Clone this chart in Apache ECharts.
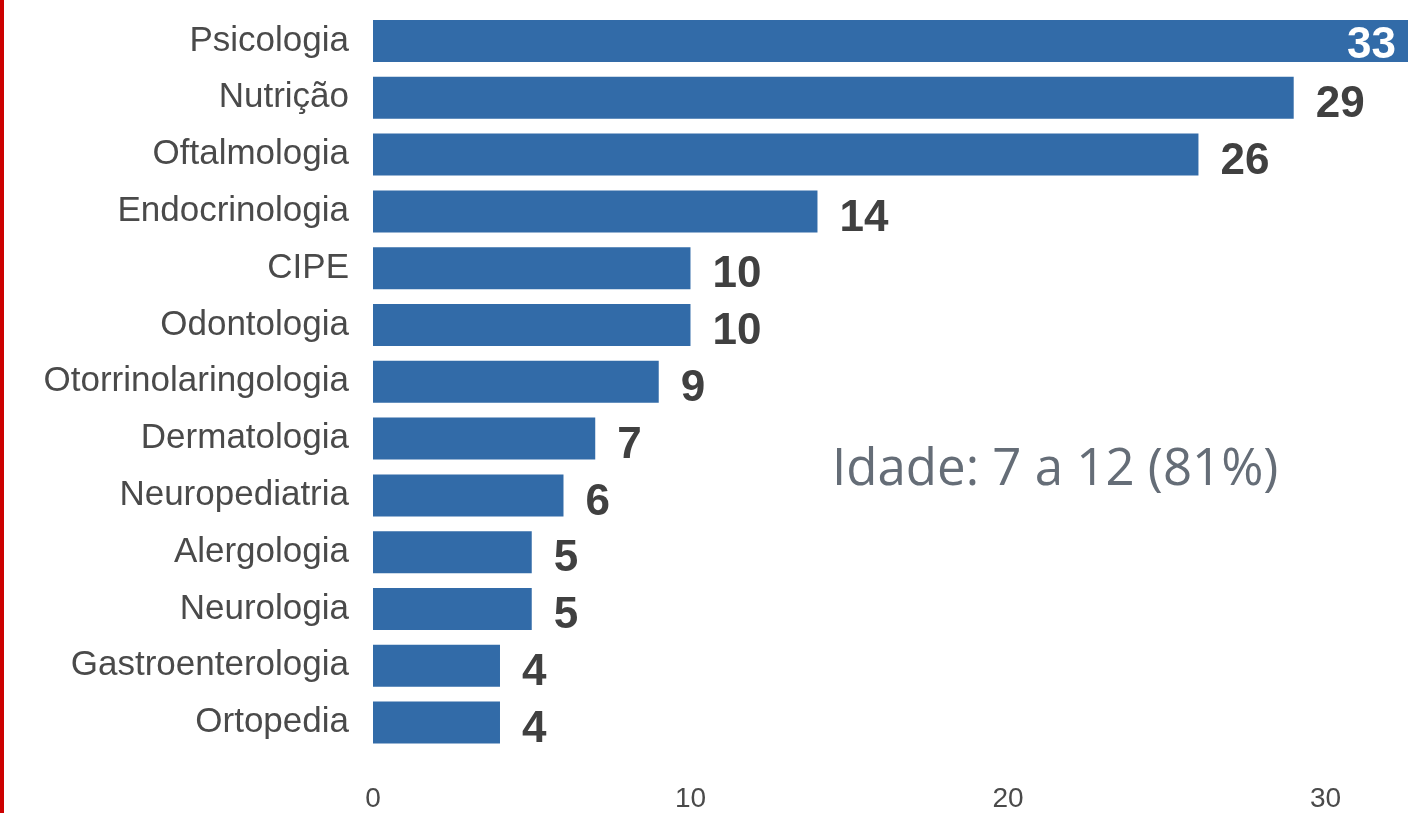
<!DOCTYPE html>
<html>
<head>
<meta charset="utf-8">
<script src="https://cdn.jsdelivr.net/npm/echarts@6/dist/echarts.min.js"></script>
<style>
html,body{margin:0;padding:0;background:#fff;}
#chart{width:1408px;height:813px;}
</style>
</head>
<body>
<div id="chart"></div>
<script>
var categories = ['Psicologia','Nutrição','Oftalmologia','Endocrinologia','CIPE','Odontologia','Otorrinolaringologia','Dermatologia','Neuropediatria','Alergologia','Neurologia','Gastroenterologia','Ortopedia'];
var values = [33,29,26,14,10,10,9,7,6,5,5,4,4];
var xTicks = [0,10,20,30];
var annotation = 'Idade: 7 a 12 (81%)';

var chart = echarts.init(document.getElementById('chart'));
var data = values.map(function(v, i){
  if (i === 0) {
    return {value: v, label: {position: 'insideRight', distance: 12, color: '#ffffff', offset: [0, 5]}};
  }
  return v;
});
chart.setOption({
  backgroundColor: '#ffffff',
  animation: false,
  grid: {left: 373, top: 12.6, right: 0, height: 739, containLabel: false},
  xAxis: {
    type: 'value', min: 0, max: 32.6, interval: 10,
    axisLine: {show: false}, axisTick: {show: false}, splitLine: {show: false},
    axisLabel: {
      fontFamily: 'Liberation Sans', fontSize: 28, color: '#4a4a4a', margin: 34,
      customValues: xTicks
    }
  },
  yAxis: {
    type: 'category', data: categories, inverse: true,
    axisLine: {show: false}, axisTick: {show: false}, splitLine: {show: false},
    axisLabel: {fontFamily: 'Liberation Sans', fontSize: 35, color: '#4a4a4a', margin: 24}
  },
  series: [{
    type: 'bar', data: data, barWidth: 42,
    itemStyle: {color: '#326ba8'},
    label: {
      show: true, position: 'right', distance: 22, offset: [0, 7],
      fontFamily: 'Liberation Sans', fontWeight: 'bold', fontSize: 44, color: '#404040'
    }
  }],
  graphic: [
    {type: 'rect', left: 0, top: 0, shape: {x: 0, y: 0, width: 4, height: 813}, style: {fill: '#cc0000'}},
    {type: 'text', x: 832, y: 470, style: {text: annotation, fontFamily: 'Open Sans', fontSize: 51, fill: '#656d77', textVerticalAlign: 'middle', textAlign: 'left'}}
  ]
});
</script>
</body>
</html>
